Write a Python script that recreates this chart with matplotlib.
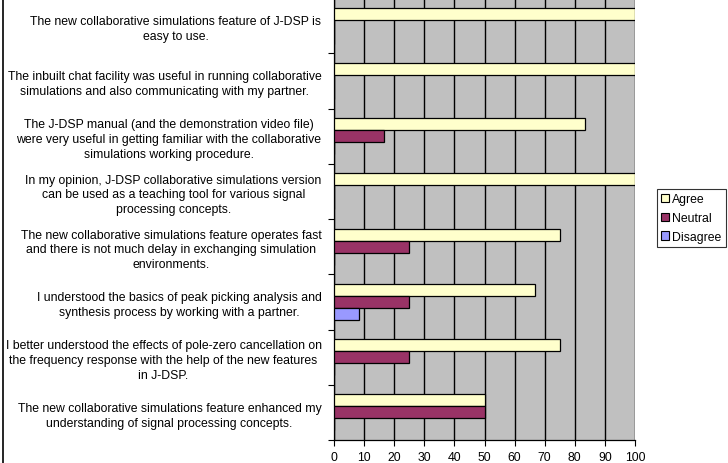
import numpy as np
import matplotlib
matplotlib.use("Agg")
import matplotlib.pyplot as plt
from matplotlib.lines import Line2D

plt.rcParams['font.family'] = ['Liberation Sans', 'DejaVu Sans']

statements = [
    "The new collaborative simulations feature of J-DSP is\neasy to use.",
    "The inbuilt chat facility was useful in running collaborative\nsimulations and also communicating with my partner.",
    "The J-DSP manual (and the demonstration video file)\nwere very useful in getting familiar with the collaborative\nsimulations working procedure.",
    "In my opinion, J-DSP collaborative simulations version\ncan be used as a teaching tool for various signal\nprocessing concepts.",
    "The new collaborative simulations feature operates fast\nand there is not much delay in exchanging simulation\nenvironments.",
    "I understood the basics of peak picking analysis and\nsynthesis process by working with a partner.",
    "I better understood the effects of pole-zero cancellation on\nthe frequency response with the help of the new features\nin J-DSP.",
    "The new collaborative simulations feature enhanced my\nunderstanding of signal processing concepts.",
]
agree = [100, 100, 83.3, 100, 75, 66.7, 75, 50]
neutral = [0, 0, 16.7, 0, 25, 25, 25, 50]
disagree = [0, 0, 0, 0, 0, 8.3, 0, 0]
series = ["Agree", "Neutral", "Disagree"]
colors = ["#FFFFCC", "#993366", "#9999FF"]

fs = 8.8

fig = plt.figure(figsize=(7.28, 4.64), dpi=100)
ax = fig.add_axes([334/728, 23/464, 301/728, 442/464])
ax.set_facecolor("#C0C0C0")

y = np.arange(len(statements))
h = 0.218
for k, (vals, name, c) in enumerate(zip([agree, neutral, disagree], series, colors)):
    ax.barh(y + (k - 1) * h, vals, height=h, color=c, edgecolor="black",
            linewidth=0.9, label=name, zorder=3)

ax.set_xlim(0, 100)
ax.set_ylim(len(statements) - 0.5, -0.5)
ax.set_xticks(range(0, 101, 10))
ax.xaxis.grid(True, color="black", linewidth=1.0, zorder=1)
ax.tick_params(axis="x", labelsize=fs, length=4, width=0.8, color="black", pad=4)

ax.set_yticks(np.arange(-0.5, len(statements)), minor=False)
ax.set_yticklabels([])
ax.tick_params(axis="y", length=4, width=0.8)
ax.set_yticks(y, minor=True)
ax.set_yticklabels(statements, minor=True, fontsize=fs, multialignment="center",
                   linespacing=1.3)
ax.tick_params(axis="y", which="minor", length=0, pad=9)

for s in ["top", "right"]:
    ax.spines[s].set_visible(False)
ax.spines["left"].set_linewidth(0.9)
ax.spines["bottom"].set_linewidth(0.9)

handles, labels = ax.get_legend_handles_labels()
leg = fig.legend(handles, labels, loc="upper left", bbox_to_anchor=(657/728, 1 - 190/464),
                 fontsize=fs, frameon=True, fancybox=False, edgecolor="black",
                 handlelength=0.65, handleheight=0.65, handletextpad=0.25,
                 borderpad=0.35, labelspacing=0.55, borderaxespad=0)
leg.get_frame().set_linewidth(0.8)
for p in leg.get_patches():
    p.set_linewidth(0.8)

fig.add_artist(Line2D([2.5/728, 2.5/728], [0, 1], color="black", linewidth=1.2,
                      transform=fig.transFigure))

fig.savefig("out.png", dpi=100)
